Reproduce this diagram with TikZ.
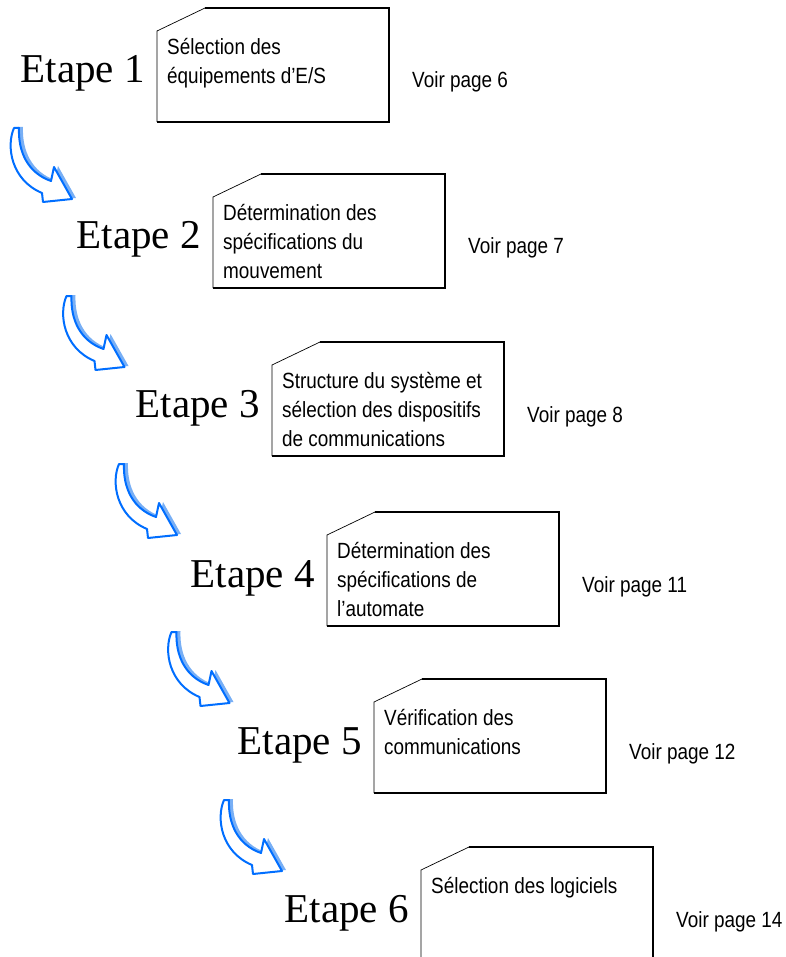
\documentclass[tikz,border=0pt]{standalone}
\usepackage{fontspec}
\setmainfont{Liberation Serif}
\newfontfamily\boxfont[FakeStretch=0.86]{Liberation Sans}
\definecolor{arrowblue}{RGB}{0,110,255}
\definecolor{shadeblue}{RGB}{120,175,245}

\tikzset{
  curl/.pic={
    \fill[shadeblue,shift={(4,-1)}] (-1,0) .. controls (-9,18) and (-4,52) .. (27,65) -- (28,74) -- (57,71) -- (39,39) -- (36,53) .. controls (13,45) and (3,24) .. (4,0) -- cycle;
    \draw[curlarrow] (-1,0) .. controls (-9,18) and (-4,52) .. (27,65) -- (28,74) -- (57,71) -- (39,39) -- (36,53) .. controls (13,45) and (3,24) .. (4,0) -- cycle;
  }
}

\begin{document}
\begin{tikzpicture}[x=1pt,y=-1pt]
 \tikzstyle{etape} = [font=\fontsize{41}{41}\selectfont, anchor=base east, inner sep=0pt]
 \tikzstyle{task} = [font=\boxfont\fontsize{22}{29}\selectfont, align=left, anchor=north west, inner sep=0pt]
 \tikzstyle{voir} = [font=\boxfont\fontsize{22}{24}\selectfont, anchor=base west, inner sep=0pt]
 \tikzstyle{boxline} = [line width=1.4pt]
 \tikzstyle{cutline} = [line width=0.7pt]
 \tikzstyle{curlarrow} = [draw=arrowblue, fill=white, line width=2pt, line join=round]
    %%
    \useasboundingbox (0,0) rectangle (785,957);
    \clip (0,0) rectangle (785,957);

    % steps: box with cut corner, label on the left, page on the right
    \foreach \i/\x/\y/\txt/\pg in {
        1/157/8/{Sélection des\\équipements d’E/S}/6,
        2/213/174/{Détermination des\\spécifications du\\mouvement}/7,
        3/272/342/{Structure du système et\\sélection des dispositifs\\de communications}/8,
        4/327/512/{Détermination des\\spécifications de\\l’automate}/11,
        5/374/679/{Vérification des\\communications}/12,
        6/421/847/{Sélection des logiciels}/14}{
        \draw[cutline] (\x+48,\y) -- (\x,\y+23) -- (\x,\y+114);
        \draw[boxline] (\x+48,\y) -- (\x+232,\y) -- (\x+232,\y+114) -- (\x,\y+114);
        \node[task] (t\i) at (\x+10,\y+30) {\txt};
        \node[etape] (e\i) at (\x-12,\y+75) {Etape \i};
        \node[voir] (v\i) at (\x+255,\y+80) {Voir page \pg};
    }

    % curved arrows between the steps
    \foreach \i in {0,...,4}
        \pic at (15+52.5*\i,128+168*\i) {curl};

\end{tikzpicture}
\end{document}
